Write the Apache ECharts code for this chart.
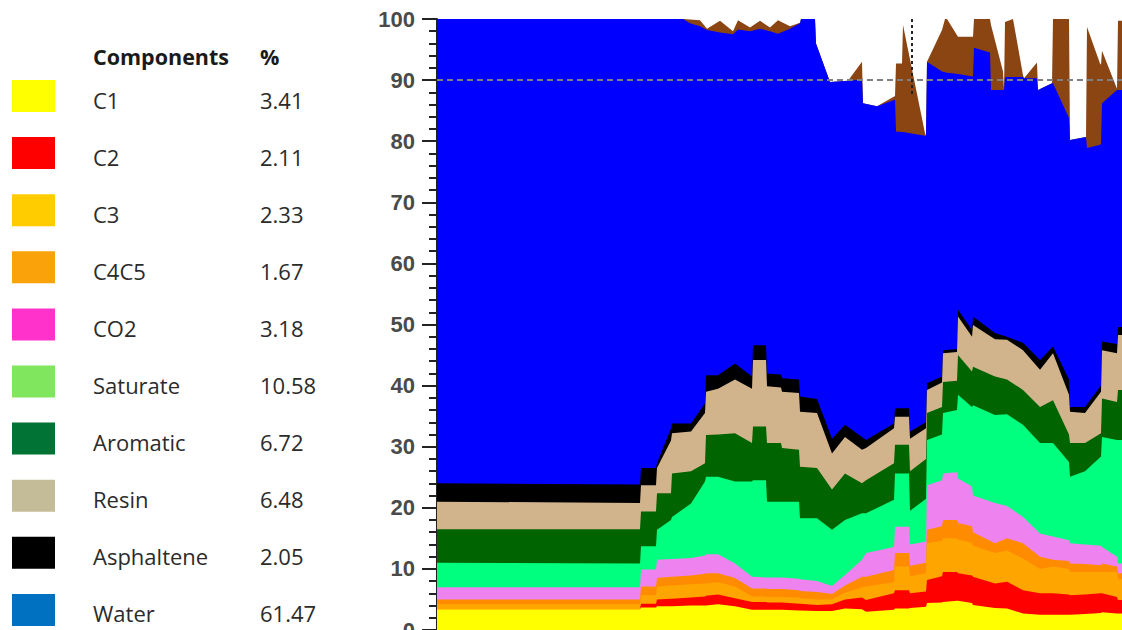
<!DOCTYPE html>
<html>
<head>
<meta charset="utf-8">
<script src="https://cdn.jsdelivr.net/npm/echarts@6/dist/echarts.min.js"></script>
<style>
html,body{margin:0;padding:0;background:#fff;}
#chart{width:1122px;height:630px;}
</style>
</head>
<body>
<div id="chart"></div>
<script>
// ---- Legend table ----
var components = ['C1','C2','C3','C4C5','CO2','Saturate','Aromatic','Resin','Asphaltene','Water'];
var percents = ['3.41','2.11','2.33','1.67','3.18','10.58','6.72','6.48','2.05','61.47'];
var legendColors = ['#FFFF00','#FF0000','#FFCC00','#F9A20A','#FF33CC','#80E65E','#007335','#C4BC98','#000000','#0070C0'];

// ---- Plot colours (bottom to top) ----
var plotColors = {
  C1:'#FFFF00', C2:'#FF0000', C3:'#FFA500', C4C5:'#FF8C00', CO2:'#EE82EE',
  Saturate:'#00FF7F', Aromatic:'#006400', Resin:'#D2B48C', Asphaltene:'#000000',
  Water:'#0000FF', Other:'#8B4513'
};

// ---- Depth positions for the lower components (arbitrary depth units) ----
var depth = [0,203,204,219,220,234,235,254,268,269,281,298,315,316,329,330,344,345,362,363,380,395,408,425,429,457,458,472,473,489,490,505,506,520,521,535,536,558,570,586,603,616,632,633,648,664,665,680,681,685];

// cumulative tops (%) of each component
var c1Top = [3.4,3.4,3.7,3.7,3.9,3.9,3.9,4.0,4.0,4.0,4.2,3.9,3.3,3.3,3.3,3.3,3.3,3.3,3.2,3.2,3.1,3.1,3.5,3.4,3.0,3.3,3.5,3.5,3.6,3.8,4.4,4.5,4.6,4.8,4.8,4.4,4.1,3.6,3.5,2.7,2.5,2.5,2.5,2.5,2.6,2.8,2.9,2.7,2.7,2.7];
var c2Top = [3.4,3.4,4.3,4.3,5.0,5.1,5.1,5.3,5.5,5.6,5.8,5.2,4.6,4.6,4.6,4.5,4.5,4.5,4.3,4.3,4.1,4.2,5.0,5.3,4.9,6.0,6.5,6.5,6.0,6.3,8.2,8.8,9.5,9.5,9.3,8.9,8.7,7.6,7.9,6.5,6.0,6.0,5.8,5.7,5.8,6.0,6.0,5.4,4.9,4.9];
var c3Top = [4.2,4.2,5.7,5.7,7.1,7.3,7.3,7.5,7.6,7.6,7.8,7.1,5.5,5.5,5.5,5.4,5.4,5.4,5.3,5.2,5.0,5.0,6.1,7.0,7.1,7.8,10.4,10.4,8.8,9.3,14.2,14.6,15.0,15.0,14.8,14.3,13.8,12.6,13.0,11.7,10.0,10.4,10.0,9.5,9.5,9.5,9.5,9.5,8.3,8.3];
var c4c5Top = [5.0,5.0,7.1,7.1,8.5,8.7,8.7,8.9,9.2,9.3,9.3,8.5,6.8,6.8,6.8,6.7,6.7,6.7,6.5,6.4,6.2,5.9,7.3,8.7,8.7,9.8,12.6,12.6,10.5,11.0,16.4,17.0,18.0,18.0,17.5,17.0,16.0,14.2,15.0,14.2,12.0,11.5,11.3,10.9,10.8,10.6,10.9,10.4,9.3,9.3];
var co2Top = [7.0,7.0,9.9,9.9,11.5,11.6,11.6,11.8,12.2,12.4,12.4,10.9,8.7,8.7,8.6,8.6,8.6,8.6,8.4,8.3,8.0,7.2,9.0,11.5,12.6,13.6,16.9,16.9,14.0,14.5,23.7,24.5,25.6,25.8,24.8,23.5,22.0,20.8,20.3,18.5,15.8,15.3,14.7,14.2,14.0,13.8,13.6,12.0,10.9,10.9];
var saturateTop = [11.0,10.9,13.7,13.7,16.4,18.0,18.5,20.7,24.3,25.1,25.1,24.3,24.3,24.5,24.5,21.0,21.0,21.0,21.0,18.3,18.3,16.4,18.0,19.1,19.1,21.3,25.6,25.6,19.5,21.5,31.1,32.0,35.5,36.0,38.5,36.5,36.8,35.2,35.3,33.6,30.6,30.6,27.5,25.1,26.0,28.4,31.6,31.1,31.1,31.1];
var aromaticTop = [16.5,16.5,19.4,19.4,22.4,22.4,25.6,26.0,27.3,31.9,32.0,32.2,30.6,33.3,33.3,30.6,30.6,29.8,29.5,26.7,26.5,23.0,25.6,24.0,24.5,27.3,30.3,30.3,26.0,28.0,35.5,36.5,40.6,40.8,45.0,42.3,43.1,41.5,41.0,39.3,36.5,37.6,32.0,30.6,30.6,32.2,37.9,37.3,39.3,39.3];
var resinTop = [21.0,20.8,23.7,23.7,26.5,31.0,32.2,32.5,35.5,39.0,39.5,41.0,39.5,44.2,44.2,39.9,39.7,39.0,38.8,35.7,35.5,28.9,31.6,29.5,29.8,33.0,34.9,34.9,31.3,33.0,39.3,40.5,45.3,45.5,51.3,48.0,49.9,47.6,47.5,45.8,42.6,45.3,38.5,35.7,35.5,39.0,45.8,45.3,48.3,48.3];
var asphalteneTop = [24.0,23.8,26.5,26.5,27.3,33.0,33.8,33.8,37.1,41.7,41.7,43.6,41.5,46.6,46.6,42.0,41.8,41.2,41.0,38.2,37.8,31.3,33.6,31.6,31.1,33.8,36.3,36.3,32.5,34.0,40.4,41.5,45.8,46.0,52.4,49.1,51.3,48.6,48.0,47.0,44.2,46.4,41.0,36.5,36.5,40.0,47.2,46.8,49.6,49.6];

// ---- Depth positions for the upper components ----
var depthTop = [0,246,253,263,270,283,296,301,313,323,333,341,353,363,364,378,379,393,411,425,426,440,458,459,465,466,488,489,490,505,508,510,521,536,537,553,554,566,567,568,576,586,587,600,601,615,616,632,633,649,650,663,664,665,680,681,685];
var waterTop = [100,100,99.3,98.8,98.2,97.8,97.5,98.3,98.0,98.4,98.0,97.6,98.4,99.3,100,100,96.0,89.7,89.9,90.1,86.2,85.7,86.8,81.6,81.5,81.5,80.9,80.9,93.0,91.4,91.3,91.2,91.0,90.6,95.3,94.5,88.4,88.4,88.4,90.5,90.5,90.5,90.3,90.3,88.4,89.5,89.5,83.8,80.2,80.7,78.9,79.4,79.5,86.2,88.4,88.4,88.4];
var otherTop = [100,100,99.9,99.8,98.4,99.7,98.0,99.8,98.6,99.7,98.6,99.8,98.8,99.4,100,100,96.0,89.7,89.9,93.0,86.2,85.7,87.4,92.7,92.7,99.0,81.3,80.9,93.0,98.2,100,100,97.1,97.1,100,100,99.0,91.4,88.4,99.5,100,90.8,90.3,92.9,88.4,89.5,100,100,80.2,80.7,98.7,92.7,92.5,94.8,88.6,99.7,99.7];

// ---- Axis ----
var yMin = 0, yMax = 100, yInterval = 10;
var depthMin = 0, depthMax = 685;
var cursorDepth = 475, cursorValue = 90, cursorEnd = 87.4;

function pairs(xs, ys){ return xs.map(function(x,i){ return [x, ys[i]]; }); }
function area(name, xs, ys){
  var c = plotColors[name];
  return {
    name: name, type: 'line', data: pairs(xs, ys), showSymbol: false, symbol: 'none',
    lineStyle: {width: 0, color: c}, itemStyle: {color: c},
    areaStyle: {color: c, opacity: 1, origin: 'start'},
    silent: true, animation: false, z: 2
  };
}

var series = [
  {
    type: 'line', data: [[depthMin, cursorValue]], symbol: 'none', lineStyle: {width: 0}, z: 1, silent: true, animation: false,
    markLine: {
      silent: true, symbol: 'none', animation: false, label: {show: false},
      data: [
        [{coord: [depthMin, cursorValue], lineStyle: {color: '#808080', type: [6, 4], width: 2}}, {coord: [depthMax, cursorValue]}],
        [{coord: [cursorDepth, yMax], lineStyle: {color: '#222', type: [3, 3], width: 2}}, {coord: [cursorDepth, cursorEnd]}]
      ]
    }
  },
  area('Other', depthTop, otherTop),
  area('Water', depthTop, waterTop),
  area('Asphaltene', depth, asphalteneTop),
  area('Resin', depth, resinTop),
  area('Aromatic', depth, aromaticTop),
  area('Saturate', depth, saturateTop),
  area('CO2', depth, co2Top),
  area('C4C5', depth, c4c5Top),
  area('C3', depth, c3Top),
  area('C2', depth, c2Top),
  area('C1', depth, c1Top)
];

// ---- Legend table as graphic ----
var legendFont = '"Open Sans", "Noto Sans", sans-serif';
var graphics = [
  {type: 'text', x: 93, y: 56, style: {text: 'Components', fill: '#1a1a1a', font: 'bold 21.5px ' + legendFont, verticalAlign: 'middle'}},
  {type: 'text', x: 260, y: 56, style: {text: '%', fill: '#1a1a1a', font: 'bold 21.5px ' + legendFont, verticalAlign: 'middle'}}
];
components.forEach(function(name, i){
  var top = 80 + 57.1 * i;
  graphics.push({type: 'rect', shape: {x: 12, y: top, width: 43, height: 32}, style: {fill: legendColors[i]}});
  graphics.push({type: 'text', x: 93, y: top + 19.5, style: {text: name, fill: '#2b2b2b', font: '22px ' + legendFont, verticalAlign: 'middle'}});
  graphics.push({type: 'text', x: 260, y: top + 19.5, style: {text: percents[i], fill: '#2b2b2b', font: '22px ' + legendFont, verticalAlign: 'middle'}});
});

var chart = echarts.init(document.getElementById('chart'), null, {renderer: 'svg'});
chart.setOption({
  animation: false,
  backgroundColor: '#fff',
  grid: {left: 437, top: 19, right: 0, bottom: 0, containLabel: false, outerBoundsMode: 'none'},
  xAxis: {
    type: 'value', min: depthMin, max: depthMax, position: 'top',
    axisLine: {show: true, lineStyle: {color: '#222', width: 2}},
    axisTick: {show: false}, axisLabel: {show: false}, splitLine: {show: false}
  },
  yAxis: {
    type: 'value', min: yMin, max: yMax, interval: yInterval,
    axisLine: {show: true, lineStyle: {color: '#222', width: 2}},
    axisTick: {show: true, length: 15, lineStyle: {color: '#222', width: 2}},
    minorTick: {show: true, splitNumber: 5, length: 8, lineStyle: {color: '#222', width: 2}},
    axisLabel: {fontSize: 22, fontWeight: 'bold', color: '#4a4a4a', fontFamily: '"Liberation Sans", Arial, sans-serif', margin: 22},
    splitLine: {show: false}
  },
  graphic: graphics,
  series: series
});
</script>
</body>
</html>
